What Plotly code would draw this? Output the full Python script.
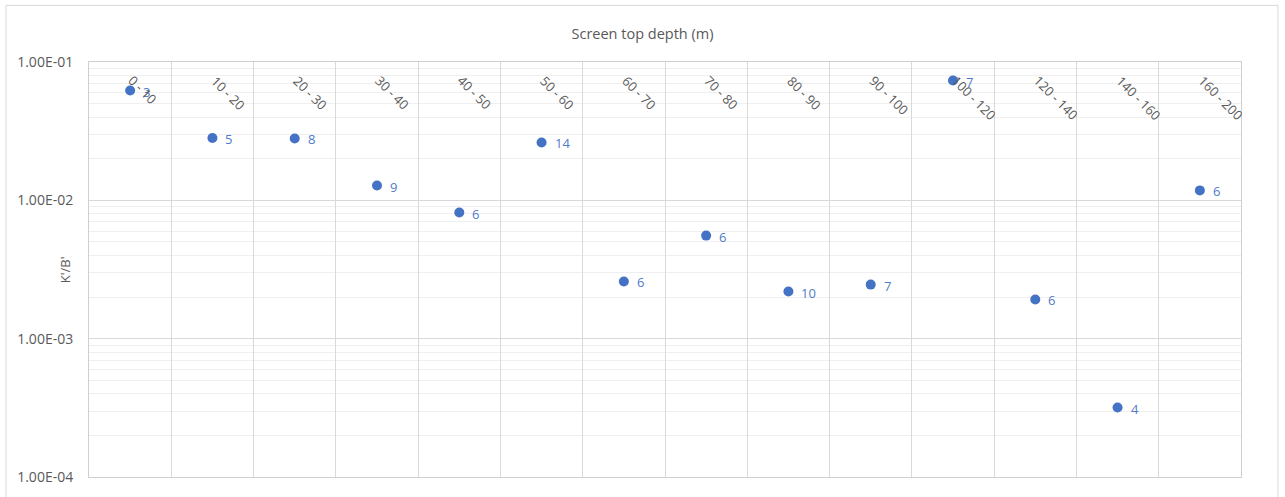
import math
import plotly.graph_objects as go

categories = ["0 - 10", "10 - 20", "20 - 30", "30 - 40", "40 - 50", "50 - 60", "60 - 70",
              "70 - 80", "80 - 90", "90 - 100", "100 - 120", "120 - 140", "140 - 160", "160 - 200"]
kb_values = [0.0622, 0.0282, 0.0280, 0.0128, 0.00816, 0.0262, 0.00259,
             0.00556, 0.00219, 0.00246, 0.0735, 0.00192, 0.000318, 0.0118]
counts = [3, 5, 8, 9, 6, 14, 6, 6, 10, 7, 7, 6, 4, 6]
y_tick_vals = [1e-4, 1e-3, 1e-2, 1e-1]
y_tick_text = ["1.00E-04", "1.00E-03", "1.00E-02", "1.00E-01"]

minor_vals = [m * 10 ** e for e in (-4, -3, -2) for m in range(2, 10)]

FONT = "Open Sans"
GRAY = "#595959"

fig = go.Figure()
fig.add_trace(go.Scatter(
    x=categories, y=kb_values, mode="markers",
    marker=dict(color="#4472C4", size=10),
    cliponaxis=False, showlegend=False,
))

# data labels (counts) to the right of each point (log axis -> annotation y in log10 units)
for c, v, n in zip(categories, kb_values, counts):
    fig.add_annotation(x=c, y=math.log10(v), yref="y", xref="x", text=str(n), showarrow=False,
                       xanchor="left", yanchor="middle", xshift=11, yshift=-1,
                       font=dict(family=FONT, size=13, color="#4F7BCB"))

# rotated category labels inside the top of the plot area
for c in categories:
    fig.add_annotation(x=c, y=1, xref="x", yref="paper", text=c, showarrow=False,
                       textangle=45, xanchor="left", yanchor="top", xshift=-8, yshift=-7,
                       font=dict(family=FONT, size=13, color=GRAY))

# y axis title
fig.add_annotation(x=-0.021, y=0.5, xref="paper", yref="paper", text="K'/B'", showarrow=False,
                   textangle=-90, xanchor="center", yanchor="middle",
                   font=dict(family=FONT, size=13, color=GRAY))

# chart area border
fig.add_shape(type="rect", xref="paper", yref="paper",
              x0=-0.0720, x1=1.0321, y0=-0.06, y1=1.1363,
              line=dict(color="#d9d9d9", width=1), layer="below")

fig.update_layout(
    width=1285, height=497,
    margin=dict(l=89, r=44, t=62, b=20),
    paper_bgcolor="white", plot_bgcolor="white",
    title=dict(text="Screen top depth (m)", x=0.5, xref="container", xanchor="center",
               y=1 - 34 / 497, yref="container", yanchor="middle",
               font=dict(family=FONT, size=14.5, color=GRAY)),
    xaxis=dict(type="category", range=[-0.5, 13.5], tickson="boundaries",
               showticklabels=False, ticks="", showgrid=True, gridcolor="#d9d9d9", gridwidth=1,
               showline=True, linecolor="#d0d0d0", mirror=True, zeroline=False, fixedrange=True),
    yaxis=dict(type="log", range=[-4, -1], tickvals=y_tick_vals, ticktext=y_tick_text,
               showgrid=True, gridcolor="#d9d9d9", gridwidth=1,
               minor=dict(tickvals=minor_vals, showgrid=True, gridcolor="#efefef", gridwidth=1, ticks=""),
               showline=True, linecolor="#d0d0d0", mirror=True, ticks="",
               ticklabelstandoff=12,
               tickfont=dict(family=FONT, size=14, color=GRAY), zeroline=False),
)

fig.write_html("out.html")
